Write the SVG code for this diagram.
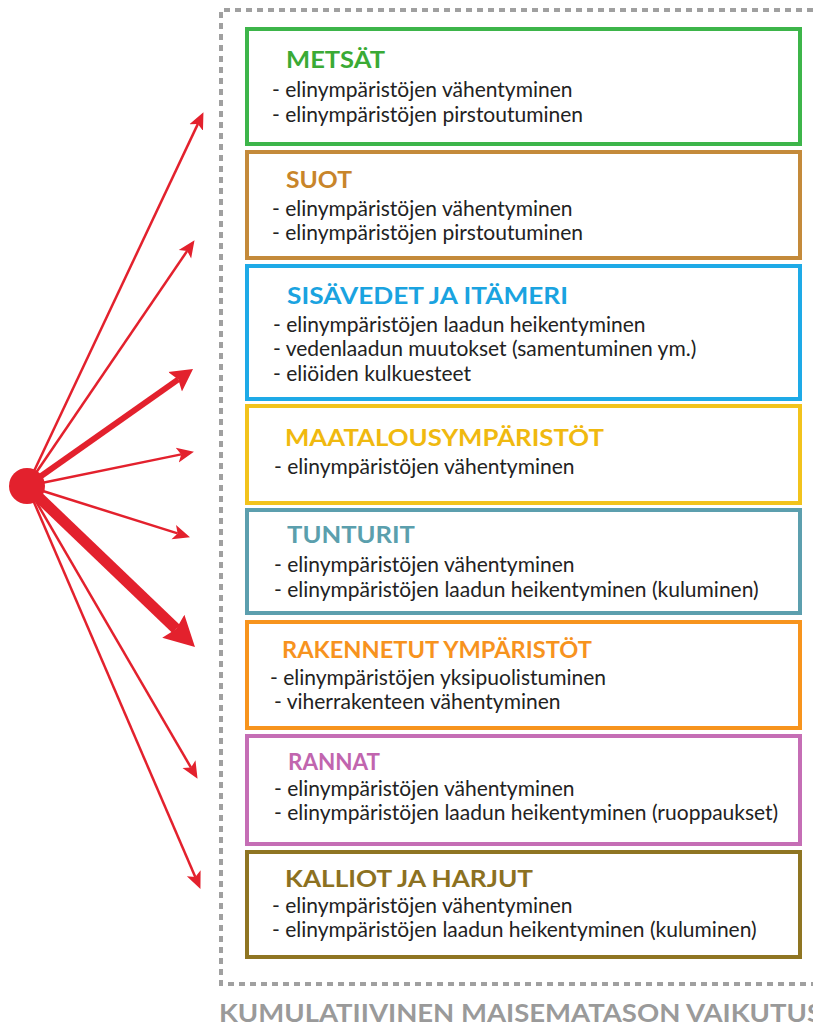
<svg xmlns="http://www.w3.org/2000/svg" width="813" height="1028" viewBox="0 0 813 1028">
<defs>
<style>
.frame{fill:none;stroke:#a0a0a0;stroke-width:4;stroke-dasharray:6 5}
.box{fill:#fff;stroke-width:4}
.title{font-family:Lato,"Open Sans",sans-serif;font-weight:700;font-size:22px}
.body{font-family:Lato,"Open Sans",sans-serif;font-size:21px;fill:#222}
.conn{stroke:#e3212d;fill:none;stroke-linecap:butt}
.thin{stroke-width:2.5;marker-end:url(#hThin)}
.mid{stroke-width:6;marker-end:url(#hMid)}
.big{stroke-width:11;marker-end:url(#hBig)}
.foot{font-family:Lato,"Open Sans",sans-serif;font-weight:700;font-size:24px;fill:#9a9a9a}
</style>
<marker id="hThin" markerUnits="userSpaceOnUse" markerWidth="20" markerHeight="20" viewBox="0 -10 20 20" refX="4" refY="0" orient="auto"><path d="M0,-7.5 L17,0 L0,7.5 L4,0 z" fill="#e3212d"/></marker>
<marker id="hMid" markerUnits="userSpaceOnUse" markerWidth="26" markerHeight="28" viewBox="0 -14 26 28" refX="4" refY="0" orient="auto"><path d="M0,-12 L22,0 L0,12 L4,0 z" fill="#e3212d"/></marker>
<marker id="hBig" markerUnits="userSpaceOnUse" markerWidth="34" markerHeight="36" viewBox="0 -18 34 36" refX="4" refY="0" orient="auto"><path d="M0,-16 L30,0 L0,16 L4,0 z" fill="#e3212d"/></marker>
</defs>
<rect width="813" height="1028" fill="#fff"/>
<path class="frame" d="M813,10 L221,10 L221,984 L813,984"/>

<g id="connectors">
<line class="conn thin" x1="27" y1="486" x2="197.9" y2="123.9"/>
<line class="conn thin" x1="27" y1="486" x2="187.2" y2="250.9"/>
<line class="conn mid" x1="27" y1="486" x2="178.3" y2="379.4"/>
<line class="conn thin" x1="27" y1="486" x2="181.2" y2="454.4"/>
<line class="conn thin" x1="27" y1="486" x2="177.6" y2="533.4"/>
<line class="conn big" x1="27" y1="486" x2="176.2" y2="629"/>
<line class="conn thin" x1="27" y1="486" x2="191" y2="767.6"/>
<line class="conn thin" x1="27" y1="486" x2="195.3" y2="877"/>
</g>
<g id="source"><circle cx="27" cy="486" r="18" fill="#e3212d"/></g>

<g id="metsat">
<rect class="box" x="247" y="29" width="553" height="115" stroke="#3db54a"/>
<text class="title" x="286" y="68" fill="#3aaa35" textLength="99" lengthAdjust="spacingAndGlyphs">METSÄT</text>
<text class="body" x="272" y="97">- elinympäristöjen vähentyminen</text>
<text class="body" x="272" y="122">- elinympäristöjen pirstoutuminen</text>
</g>

<g id="suot">
<rect class="box" x="247" y="152" width="553" height="106" stroke="#c48a3a"/>
<text class="title" x="286" y="188" fill="#c8852a" textLength="66" lengthAdjust="spacingAndGlyphs">SUOT</text>
<text class="body" x="272" y="216">- elinympäristöjen vähentyminen</text>
<text class="body" x="272" y="240">- elinympäristöjen pirstoutuminen</text>
</g>

<g id="sisavedet">
<rect class="box" x="247" y="266" width="553" height="133" stroke="#1eaae7"/>
<text class="title" x="287" y="304" fill="#1aa3e0" textLength="281" lengthAdjust="spacingAndGlyphs">SISÄVEDET JA ITÄMERI</text>
<text class="body" x="273" y="332">- elinympäristöjen laadun heikentyminen</text>
<text class="body" x="273" y="356">- vedenlaadun muutokset (samentuminen ym.)</text>
<text class="body" x="273" y="381">- eliöiden kulkuesteet</text>
</g>

<g id="maatalous">
<rect class="box" x="247" y="406" width="553" height="97" stroke="#f2c31c"/>
<text class="title" x="285" y="446" fill="#f0b90f" textLength="319" lengthAdjust="spacingAndGlyphs">MAATALOUSYMPÄRISTÖT</text>
<text class="body" x="274" y="474">- elinympäristöjen vähentyminen</text>
</g>

<g id="tunturit">
<rect class="box" x="247" y="510" width="553" height="103" stroke="#5c9fae"/>
<text class="title" x="287" y="543" fill="#5b9fad" textLength="128" lengthAdjust="spacingAndGlyphs">TUNTURIT</text>
<text class="body" x="274" y="572">- elinympäristöjen vähentyminen</text>
<text class="body" x="274" y="597">- elinympäristöjen laadun heikentyminen (kuluminen)</text>
</g>

<g id="rakennetut">
<rect class="box" x="247" y="622" width="553" height="106" stroke="#f7941d"/>
<text class="title" x="282" y="658" fill="#f7931e" textLength="310" lengthAdjust="spacingAndGlyphs">RAKENNETUT YMPÄRISTÖT</text>
<text class="body" x="270" y="685">- elinympäristöjen yksipuolistuminen</text>
<text class="body" x="274" y="709">- viherrakenteen vähentyminen</text>
</g>

<g id="rannat">
<rect class="box" x="247" y="736" width="553" height="108" stroke="#c56eb5"/>
<text class="title" x="288" y="770" fill="#c165ae" textLength="92" lengthAdjust="spacingAndGlyphs">RANNAT</text>
<text class="body" x="274" y="796">- elinympäristöjen vähentyminen</text>
<text class="body" x="274" y="820">- elinympäristöjen laadun heikentyminen (ruoppaukset)</text>
</g>

<g id="kalliot">
<rect class="box" x="247" y="852" width="553" height="105" stroke="#8f7522"/>
<text class="title" x="285" y="887" fill="#8c7121" textLength="248" lengthAdjust="spacingAndGlyphs">KALLIOT JA HARJUT</text>
<text class="body" x="272" y="913">- elinympäristöjen vähentyminen</text>
<text class="body" x="272" y="937">- elinympäristöjen laadun heikentyminen (kuluminen)</text>
</g>

<text class="foot" x="219" y="1022" textLength="603" lengthAdjust="spacingAndGlyphs">KUMULATIIVINEN MAISEMATASON VAIKUTUS</text>
</svg>
